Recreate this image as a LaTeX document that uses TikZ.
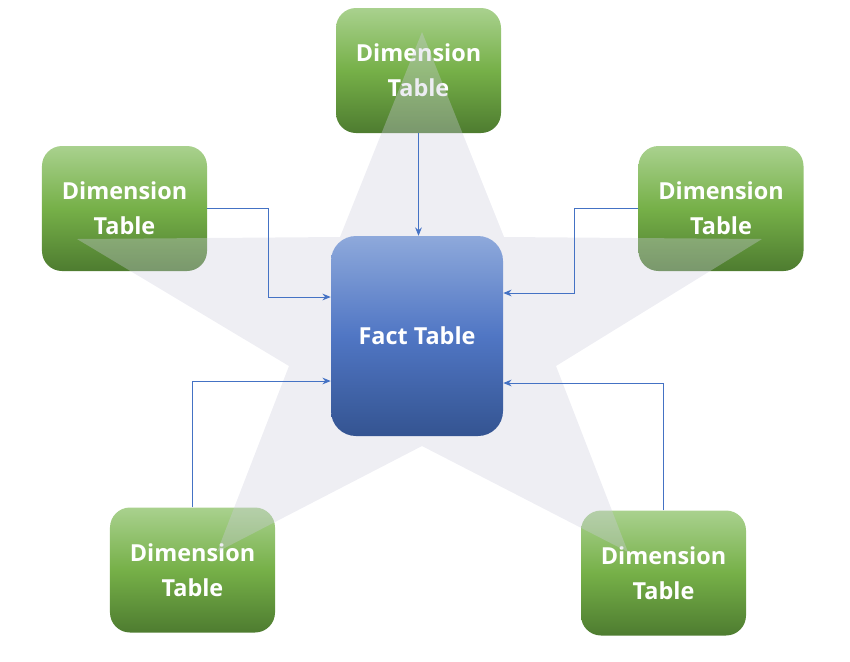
\documentclass[tikz,border=0pt]{standalone}
\usepackage{fontspec}
\setmainfont{Open Sans}
\usetikzlibrary{arrows.meta}
\definecolor{dimtop}{RGB}{169,209,142}
\definecolor{dimmid}{RGB}{118,176,72}
\definecolor{dimbot}{RGB}{78,124,48}
\definecolor{facttop}{RGB}{142,169,219}
\definecolor{factmid}{RGB}{80,118,196}
\definecolor{factbot}{RGB}{52,84,145}
\definecolor{starfill}{RGB}{205,205,222}
\definecolor{linkblue}{RGB}{68,114,196}

\begin{document}
\begin{tikzpicture}[x=0.03cm, y=-0.03cm]
\tikzstyle{dimension} = [rectangle, rounded corners=0.6cm, minimum width=4.95cm, minimum height=3.75cm, align=center, text=white, font=\fontsize{20}{30}\selectfont\bfseries, top color=dimtop, bottom color=dimbot, middle color=dimmid, draw=none]
\tikzstyle{fact} = [rectangle, rounded corners=0.75cm, minimum width=5.16cm, minimum height=6cm, align=center, text=white, font=\fontsize{20}{30}\selectfont\bfseries, top color=facttop, bottom color=factbot, middle color=factmid, draw=none]
\tikzstyle{link} = [linkblue, line width=0.8pt, -{Stealth[length=2.5mm, width=2mm]}]

\useasboundingbox (0,0) rectangle (850,661);

% Nodes
\node (dtop) [dimension] at (418.5,70.5) {Dimension\\Table};
\node (dleft) [dimension] at (124.5,208.5) {Dimension\\Table};
\node (dright) [dimension] at (721,208.5) {Dimension\\Table};
\node (dbl) [dimension] at (192.5,570) {Dimension\\Table};
\node (dbr) [dimension] at (663.5,573) {Dimension\\Table};

% Star
\fill [starfill, opacity=0.35] (422,32) -- (504,237) -- (762,239) -- (556,366) -- (628,552)
  -- (422,446) -- (217,552) -- (289,366) -- (77,239) -- (340,237) -- cycle;

\node (fact) [fact] at (417,336) {Fact Table};

% Arrows
\draw [link] (dtop.south) -- (fact.north -| dtop.south);
\draw [link] (dleft.east) -| (268,297) -- (fact.west |- 0,297);
\draw [link] (dright.west) -| (574,293) -- (fact.east |- 0,293);
\draw [link] (dbl.north) |- (fact.west |- 0,381);
\draw [link] (dbr.north) |- (fact.east |- 0,383);

\end{tikzpicture}
\end{document}
